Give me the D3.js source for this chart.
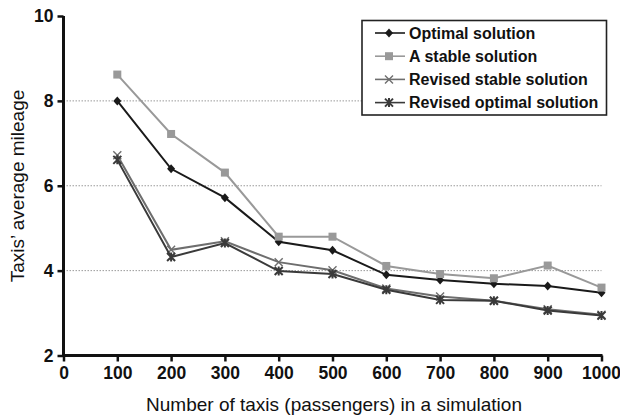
<!DOCTYPE html>
<html>
<head>
<meta charset="utf-8">
<script src="https://cdn.jsdelivr.net/npm/d3@7"></script>
<style>
  html, body { margin: 0; padding: 0; background: #fff; }
  svg { display: block; font-family: Arial, "Liberation Sans", sans-serif; }
</style>
</head>
<body>
<svg id="chart" width="620" height="418"></svg>
<script>
// Number of taxis simulated
const taxis = [100, 200, 300, 400, 500, 600, 700, 800, 900, 1000];

// Average mileage per taxi for each solution method
const optimal        = [8.00, 6.40, 5.72, 4.68, 4.48, 3.90, 3.78, 3.69, 3.64, 3.48];
const astable        = [8.62, 7.22, 6.31, 4.80, 4.80, 4.11, 3.92, 3.82, 4.12, 3.60];
const revisedStable  = [6.72, 4.49, 4.69, 4.20, 4.01, 3.58, 3.39, 3.29, 3.09, 2.96];
const revisedOptimal = [6.61, 4.32, 4.65, 3.99, 3.92, 3.55, 3.31, 3.29, 3.06, 2.94];

const seriesNames = ["Optimal solution", "A stable solution", "Revised stable solution", "Revised optimal solution"];

const xTicks = [0, 100, 200, 300, 400, 500, 600, 700, 800, 900, 1000];
const yTicks = [2, 4, 6, 8, 10];
const gridValues = [4, 6, 8];

const series = [
  { name: seriesNames[0], values: optimal,        color: "#1a1a1a", marker: "diamond" },
  { name: seriesNames[1], values: astable,        color: "#999999", marker: "square" },
  { name: seriesNames[2], values: revisedStable,  color: "#6e6e6e", marker: "cross" },
  { name: seriesNames[3], values: revisedOptimal, color: "#3a3a3a", marker: "star" }
];

const svg = d3.select("#chart");

const x = d3.scaleLinear().domain([0, 1000]).range([63.5, 601.5]);
const y = d3.scaleLinear().domain([2, 10]).range([355.5, 16]);

// Dotted horizontal grid
svg.append("g").selectAll("line").data(gridValues).join("line")
  .attr("x1", x(0)).attr("x2", x(1000))
  .attr("y1", d => y(d)).attr("y2", d => y(d))
  .attr("stroke", "#9a9a9a").attr("stroke-width", 1)
  .attr("stroke-dasharray", "1.5,1.5");

// Axes
const xAxis = svg.append("g")
  .attr("transform", `translate(0,${y(2)})`)
  .call(d3.axisBottom(x).tickValues(xTicks).tickFormat(d3.format("d"))
    .tickSizeOuter(0).tickSize(6).tickPadding(5));
const yAxis = svg.append("g")
  .attr("transform", `translate(${x(0)},0)`)
  .call(d3.axisLeft(y).tickValues(yTicks).tickFormat(d3.format("d"))
    .tickSizeOuter(0).tickSize(6).tickPadding(4));

[xAxis, yAxis].forEach(g => {
  g.select(".domain").attr("stroke", "#111").attr("stroke-width", 3);
  g.selectAll(".tick line").attr("stroke", "#111").attr("stroke-width", 2.5);
  g.selectAll(".tick text")
    .attr("fill", "#111")
    .style("font-size", "17.5px")
    .style("font-weight", "bold")
    .style("font-family", "Arial, 'Liberation Sans', sans-serif");
});
// keep the last x label inside the canvas
xAxis.selectAll(".tick text").filter(d => d === 1000)
  .attr("text-anchor", "end").attr("dx", "19");
// extend domains to close the corner
xAxis.select(".domain").attr("d", `M${x(0) - 1.5},0H${x(1000) + 1}`);
yAxis.select(".domain").attr("d", `M0,${y(10)}V${y(2) + 1.5}`);

// Axis titles
svg.append("text")
  .attr("x", 334).attr("y", 411)
  .attr("text-anchor", "middle")
  .style("font-size", "19px").attr("fill", "#111")
  .text("Number of taxis (passengers) in a simulation");
svg.append("text")
  .attr("transform", `translate(24,${186}) rotate(-90)`)
  .attr("text-anchor", "middle")
  .style("font-size", "19px").attr("fill", "#111")
  .text("Taxis’ average mileage");

// Marker drawing
function drawMarker(g, type, cx, cy, color) {
  if (type === "diamond") {
    g.append("path")
      .attr("d", `M${cx},${cy - 4.5}L${cx + 4},${cy}L${cx},${cy + 4.5}L${cx - 4},${cy}Z`)
      .attr("fill", color);
  } else if (type === "square") {
    g.append("rect").attr("x", cx - 4).attr("y", cy - 4)
      .attr("width", 8).attr("height", 8).attr("fill", color);
  } else if (type === "cross") {
    g.append("path")
      .attr("d", `M${cx - 4},${cy - 4}L${cx + 4},${cy + 4}M${cx - 4},${cy + 4}L${cx + 4},${cy - 4}`)
      .attr("stroke", color).attr("stroke-width", 1.4).attr("fill", "none");
  } else if (type === "star") {
    g.append("path")
      .attr("d", `M${cx - 4},${cy - 4}L${cx + 4},${cy + 4}M${cx - 4},${cy + 4}L${cx + 4},${cy - 4}M${cx},${cy - 4.5}V${cy + 4.5}`)
      .attr("stroke", color).attr("stroke-width", 2).attr("fill", "none");
  }
}

const line = d3.line().x(d => x(d[0])).y(d => y(d[1]));

series.forEach(s => {
  const pts = taxis.map((t, i) => [t, s.values[i]]);
  const g = svg.append("g");
  g.append("path").datum(pts)
    .attr("d", line)
    .attr("fill", "none")
    .attr("stroke", s.color)
    .attr("stroke-width", 2);
  pts.forEach(p => drawMarker(g, s.marker, x(p[0]), y(p[1]), s.color));
});

// Legend
const lg = svg.append("g");
lg.append("rect")
  .attr("x", 362).attr("y", 20.5).attr("width", 244.5).attr("height", 94.5)
  .attr("fill", "#fff").attr("stroke", "#222").attr("stroke-width", 1.6);
series.forEach((s, i) => {
  const cy = 33 + i * 23.2;
  lg.append("line").attr("x1", 375).attr("x2", 405).attr("y1", cy).attr("y2", cy)
    .attr("stroke", s.color).attr("stroke-width", 1.6);
  drawMarker(lg, s.marker, 389, cy, s.color);
  lg.append("text")
    .attr("x", 409).attr("y", cy + 5.5)
    .style("font-size", "16px").style("font-weight", "bold").attr("fill", "#111")
    .text(s.name);
});
</script>
</body>
</html>
